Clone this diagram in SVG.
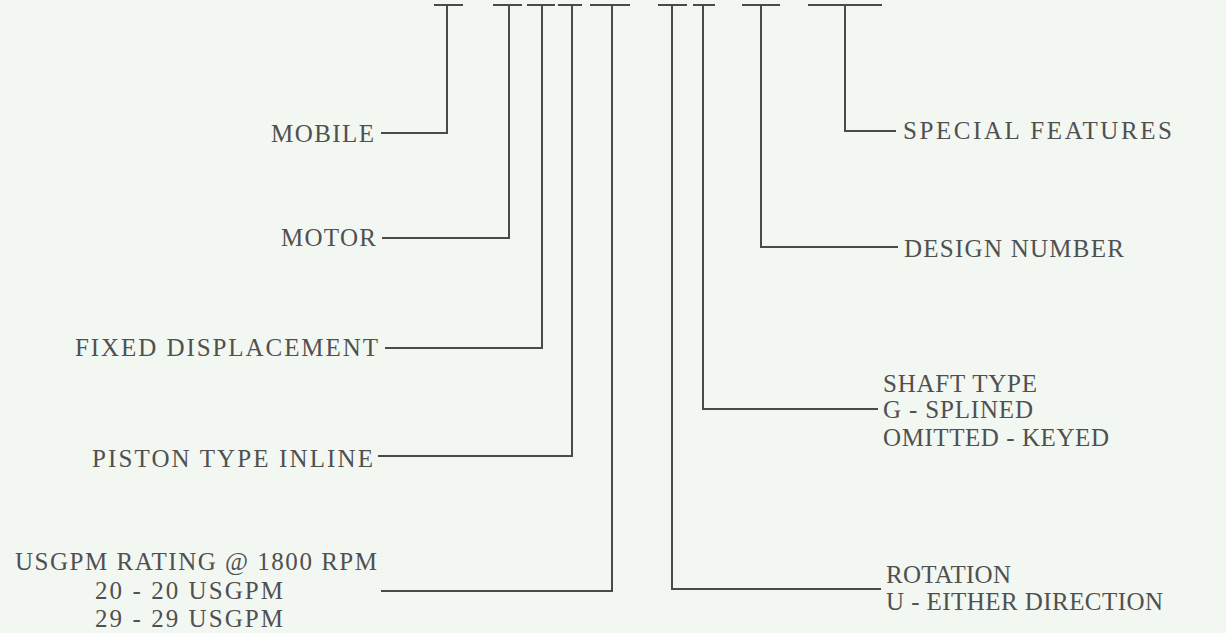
<svg xmlns="http://www.w3.org/2000/svg" width="1226" height="633" viewBox="0 0 1226 633">
<style>
.bg{fill:#f3f7f2}
.ln{fill:none;stroke:#4a4a4a;stroke-width:2;stroke-linecap:square;stroke-linejoin:miter}
.tx{font-family:"Liberation Serif","Times New Roman",serif;font-size:25px;fill:#505050}
</style>
<rect class="bg" x="0" y="0" width="1226" height="633"/>
<g id="connectors">
<path class="ln" d="M435,5 H462 M447,5 V133 H382"/>
<path class="ln" d="M494,5 H521 M509,5 V238 H383"/>
<path class="ln" d="M528,5 H554 M542,5 V348 H386"/>
<path class="ln" d="M559,5 H581 M572,5 V456 H379"/>
<path class="ln" d="M591,5 H629 M612,5 V591 H382"/>
<path class="ln" d="M659,5 H686 M672,5 V589 H880"/>
<path class="ln" d="M694,5 H714 M703,5 V409 H877"/>
<path class="ln" d="M743,5 H779 M761,5 V247 H897"/>
<path class="ln" d="M809,5 H881 M845,5 V131 H895"/>
</g>
<g id="mobile"><text class="tx" x="271" y="142" textLength="103" lengthAdjust="spacing">MOBILE</text></g>
<g id="motor"><text class="tx" x="281" y="246" textLength="95" lengthAdjust="spacing">MOTOR</text></g>
<g id="fixed"><text class="tx" x="75" y="356" textLength="303" lengthAdjust="spacing">FIXED DISPLACEMENT</text></g>
<g id="piston"><text class="tx" x="92" y="467" textLength="281" lengthAdjust="spacing">PISTON TYPE INLINE</text></g>
<g id="usgpm">
<text class="tx" x="15" y="570" textLength="362" lengthAdjust="spacing">USGPM RATING @ 1800 RPM</text>
<text class="tx" x="95" y="599" textLength="188" lengthAdjust="spacing">20 - 20 USGPM</text>
<text class="tx" x="95" y="627" textLength="188" lengthAdjust="spacing">29 - 29 USGPM</text>
</g>
<g id="special"><text class="tx" x="903" y="139" textLength="269" lengthAdjust="spacing">SPECIAL FEATURES</text></g>
<g id="design"><text class="tx" x="904" y="257" textLength="220" lengthAdjust="spacing">DESIGN NUMBER</text></g>
<g id="shaft">
<text class="tx" x="883" y="392" textLength="154" lengthAdjust="spacing">SHAFT TYPE</text>
<text class="tx" x="883" y="418" textLength="150" lengthAdjust="spacing">G - SPLINED</text>
<text class="tx" x="883" y="446" textLength="226" lengthAdjust="spacing">OMITTED - KEYED</text>
</g>
<g id="rotation">
<text class="tx" x="886" y="583" textLength="125" lengthAdjust="spacing">ROTATION</text>
<text class="tx" x="886" y="610" textLength="277" lengthAdjust="spacing">U - EITHER DIRECTION</text>
</g>
</svg>
